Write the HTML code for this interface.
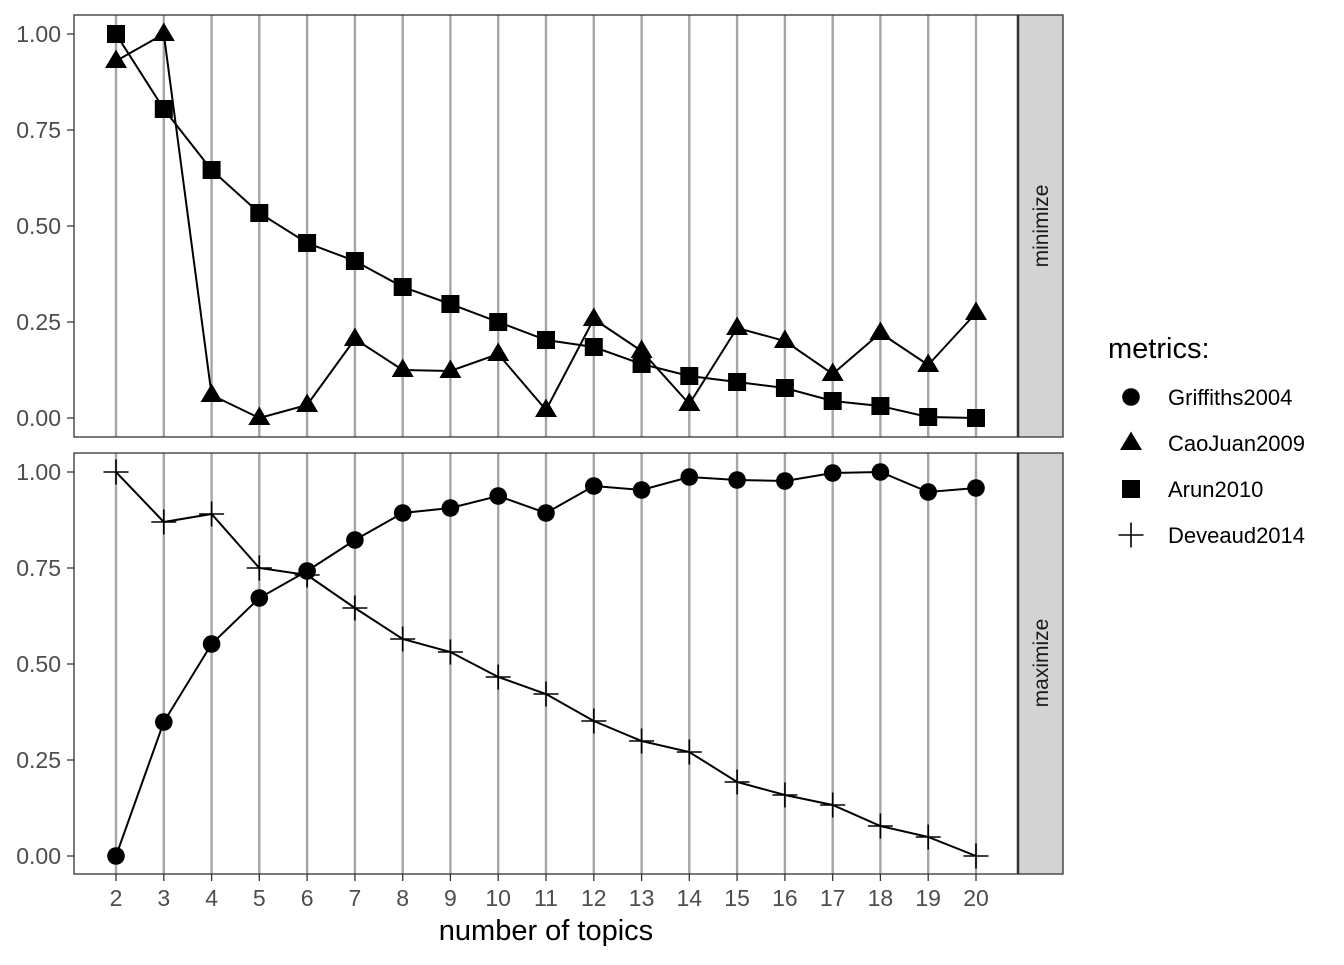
<!DOCTYPE html>
<html><head><meta charset="utf-8"><style>body{margin:0;background:#fff}</style></head><body>
<svg width="1344" height="960" xmlns="http://www.w3.org/2000/svg" font-family="Liberation Sans, sans-serif">
<defs>
<g id="sq"><rect x="-9" y="-9" width="18" height="18" fill="#000"/></g>
<g id="tri"><polygon points="0,-11.5 11,7 -11,7" fill="#000"/></g>
<g id="ci"><circle r="8.8" fill="#000"/></g>
<g id="pl"><path d="M-12.5,0H12.5M0,-12.5V12.5" stroke="#000" stroke-width="1.6"/></g>
</defs>
<rect x="0" y="0" width="1344" height="960" fill="#fff"/>
<g stroke="#a6a6a6" stroke-width="2.4">
<path d="M116,15V437M163.8,15V437M211.6,15V437M259.3,15V437M307.1,15V437M354.9,15V437M402.7,15V437M450.4,15V437M498.2,15V437M546,15V437M593.8,15V437M641.6,15V437M689.3,15V437M737.1,15V437M784.9,15V437M832.7,15V437M880.4,15V437M928.2,15V437M976,15V437"/>
<path d="M116,453V874M163.8,453V874M211.6,453V874M259.3,453V874M307.1,453V874M354.9,453V874M402.7,453V874M450.4,453V874M498.2,453V874M546,453V874M593.8,453V874M641.6,453V874M689.3,453V874M737.1,453V874M784.9,453V874M832.7,453V874M880.4,453V874M928.2,453V874M976,453V874"/>
</g>
<rect x="74" y="15" width="944" height="422" fill="none" stroke="#333" stroke-width="1.3"/>
<rect x="74" y="453" width="944" height="421" fill="none" stroke="#333" stroke-width="1.3"/>
<rect x="1018" y="15" width="45" height="422" fill="#d3d3d3" stroke="#333" stroke-width="1.3"/>
<rect x="1018" y="453" width="45" height="421" fill="#d3d3d3" stroke="#333" stroke-width="1.3"/>
<path d="M1018,15V437M1018,453V874" stroke="#333" stroke-width="2.5"/>
<text transform="translate(1048,226) rotate(-90)" text-anchor="middle" font-size="21" fill="#1a1a1a">minimize</text>
<text transform="translate(1048,663) rotate(-90)" text-anchor="middle" font-size="21" fill="#1a1a1a">maximize</text>
<g font-size="23" fill="#4d4d4d" text-anchor="end">
<text x="61" y="42">1.00</text><text x="61" y="138">0.75</text><text x="61" y="234">0.50</text><text x="61" y="330">0.25</text><text x="61" y="426">0.00</text>
<text x="61" y="480">1.00</text><text x="61" y="576">0.75</text><text x="61" y="672">0.50</text><text x="61" y="768">0.25</text><text x="61" y="864">0.00</text>
</g>
<g stroke="#333" stroke-width="1.3">
<path d="M67,34H74M67,130H74M67,226H74M67,322H74M67,418H74M67,472H74M67,568H74M67,664H74M67,760H74M67,856H74"/>
<path d="M116,874V881M163.8,874V881M211.6,874V881M259.3,874V881M307.1,874V881M354.9,874V881M402.7,874V881M450.4,874V881M498.2,874V881M546,874V881M593.8,874V881M641.6,874V881M689.3,874V881M737.1,874V881M784.9,874V881M832.7,874V881M880.4,874V881M928.2,874V881M976,874V881"/>
</g>
<g font-size="23" fill="#4d4d4d" text-anchor="middle">
<text x="116" y="906">2</text><text x="163.8" y="906">3</text><text x="211.6" y="906">4</text><text x="259.3" y="906">5</text><text x="307.1" y="906">6</text><text x="354.9" y="906">7</text><text x="402.7" y="906">8</text><text x="450.4" y="906">9</text><text x="498.2" y="906">10</text><text x="546" y="906">11</text><text x="593.8" y="906">12</text><text x="641.6" y="906">13</text><text x="689.3" y="906">14</text><text x="737.1" y="906">15</text><text x="784.9" y="906">16</text><text x="832.7" y="906">17</text><text x="880.4" y="906">18</text><text x="928.2" y="906">19</text><text x="976" y="906">20</text>
</g>
<text x="546" y="940" text-anchor="middle" font-size="29" fill="#000">number of topics</text>
<g fill="none" stroke="#000" stroke-width="2">
<polyline points="116,34 163.8,109 211.6,170 259.3,213 307.1,243 354.9,261 402.7,287 450.4,304 498.2,322 546,340 593.8,347 641.6,364 689.3,376 737.1,382 784.9,388 832.7,401 880.4,406 928.2,417 976,418"/>
<polyline points="116,61 163.8,34 211.6,395 259.3,418 307.1,405 354.9,339 402.7,370 450.4,371 498.2,354 546,410 593.8,319 641.6,351 689.3,404 737.1,328 784.9,341 832.7,374 880.4,333 928.2,365 976,313"/>
<polyline points="116,856 163.8,722 211.6,644 259.3,598 307.1,571 354.9,540 402.7,513 450.4,508 498.2,496 546,513 593.8,486 641.6,490 689.3,477 737.1,480 784.9,481 832.7,473 880.4,472 928.2,492 976,488"/>
<polyline points="116,472 163.8,522 211.6,514 259.3,568 307.1,575 354.9,608 402.7,639 450.4,652 498.2,677 546,694 593.8,721 641.6,741 689.3,752 737.1,782 784.9,795 832.7,805 880.4,826 928.2,837 976,856"/>
</g>
<g>
<use href="#sq" x="116" y="34"/><use href="#sq" x="163.8" y="109"/><use href="#sq" x="211.6" y="170"/><use href="#sq" x="259.3" y="213"/><use href="#sq" x="307.1" y="243"/><use href="#sq" x="354.9" y="261"/><use href="#sq" x="402.7" y="287"/><use href="#sq" x="450.4" y="304"/><use href="#sq" x="498.2" y="322"/><use href="#sq" x="546" y="340"/><use href="#sq" x="593.8" y="347"/><use href="#sq" x="641.6" y="364"/><use href="#sq" x="689.3" y="376"/><use href="#sq" x="737.1" y="382"/><use href="#sq" x="784.9" y="388"/><use href="#sq" x="832.7" y="401"/><use href="#sq" x="880.4" y="406"/><use href="#sq" x="928.2" y="417"/><use href="#sq" x="976" y="418"/>
<use href="#tri" x="116" y="61"/><use href="#tri" x="163.8" y="34"/><use href="#tri" x="211.6" y="395"/><use href="#tri" x="259.3" y="418"/><use href="#tri" x="307.1" y="405"/><use href="#tri" x="354.9" y="339"/><use href="#tri" x="402.7" y="370"/><use href="#tri" x="450.4" y="371"/><use href="#tri" x="498.2" y="354"/><use href="#tri" x="546" y="410"/><use href="#tri" x="593.8" y="319"/><use href="#tri" x="641.6" y="351"/><use href="#tri" x="689.3" y="404"/><use href="#tri" x="737.1" y="328"/><use href="#tri" x="784.9" y="341"/><use href="#tri" x="832.7" y="374"/><use href="#tri" x="880.4" y="333"/><use href="#tri" x="928.2" y="365"/><use href="#tri" x="976" y="313"/>
<use href="#ci" x="116" y="856"/><use href="#ci" x="163.8" y="722"/><use href="#ci" x="211.6" y="644"/><use href="#ci" x="259.3" y="598"/><use href="#ci" x="307.1" y="571"/><use href="#ci" x="354.9" y="540"/><use href="#ci" x="402.7" y="513"/><use href="#ci" x="450.4" y="508"/><use href="#ci" x="498.2" y="496"/><use href="#ci" x="546" y="513"/><use href="#ci" x="593.8" y="486"/><use href="#ci" x="641.6" y="490"/><use href="#ci" x="689.3" y="477"/><use href="#ci" x="737.1" y="480"/><use href="#ci" x="784.9" y="481"/><use href="#ci" x="832.7" y="473"/><use href="#ci" x="880.4" y="472"/><use href="#ci" x="928.2" y="492"/><use href="#ci" x="976" y="488"/>
<use href="#pl" x="116" y="472"/><use href="#pl" x="163.8" y="522"/><use href="#pl" x="211.6" y="514"/><use href="#pl" x="259.3" y="568"/><use href="#pl" x="307.1" y="575"/><use href="#pl" x="354.9" y="608"/><use href="#pl" x="402.7" y="639"/><use href="#pl" x="450.4" y="652"/><use href="#pl" x="498.2" y="677"/><use href="#pl" x="546" y="694"/><use href="#pl" x="593.8" y="721"/><use href="#pl" x="641.6" y="741"/><use href="#pl" x="689.3" y="752"/><use href="#pl" x="737.1" y="782"/><use href="#pl" x="784.9" y="795"/><use href="#pl" x="832.7" y="805"/><use href="#pl" x="880.4" y="826"/><use href="#pl" x="928.2" y="837"/><use href="#pl" x="976" y="856"/>
</g>
<text x="1108" y="358" font-size="29" fill="#000">metrics:</text>
<use href="#ci" x="1131" y="397"/><use href="#tri" x="1131" y="443"/><use href="#sq" x="1131" y="489"/><use href="#pl" x="1131" y="535"/>
<g font-size="22" fill="#000">
<text x="1168" y="405">Griffiths2004</text><text x="1168" y="451">CaoJuan2009</text><text x="1168" y="497">Arun2010</text><text x="1168" y="543">Deveaud2014</text>
</g>
</svg>
</body></html>
